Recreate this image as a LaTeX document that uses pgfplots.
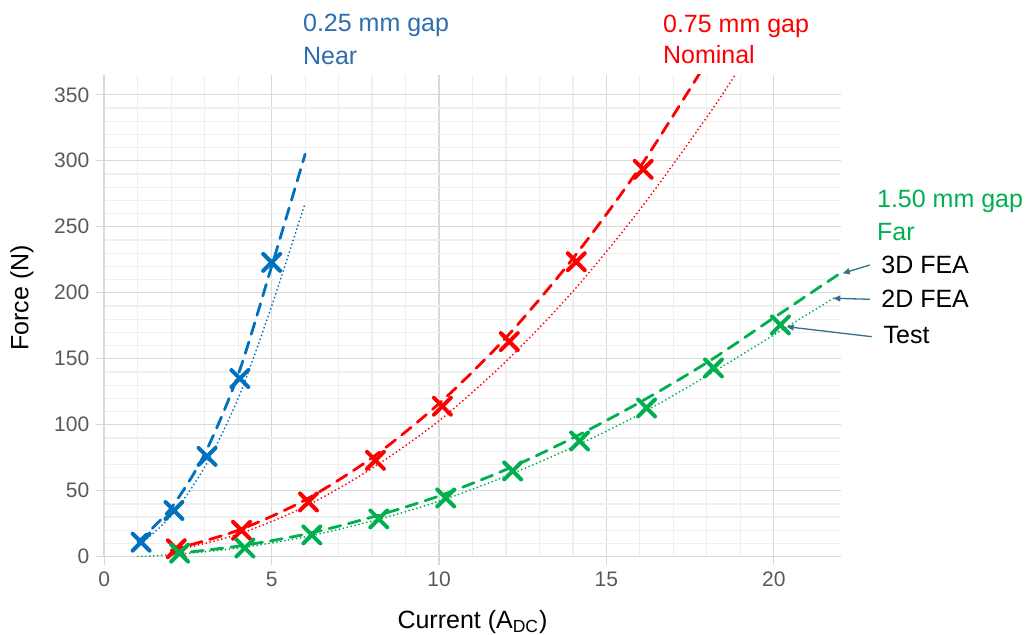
\documentclass[border=0pt]{standalone}
\usepackage{fontspec}
\setmainfont{Liberation Sans}
\usepackage{pgfplots}
\pgfplotsset{compat=1.18}
\usetikzlibrary{arrows.meta}
\definecolor{cblue}{HTML}{0070C0}
\definecolor{cred}{HTML}{FF0000}
\definecolor{cgreen}{HTML}{00B050}
\definecolor{tblue}{HTML}{2E6EAF}
\definecolor{tickgray}{HTML}{595959}
\definecolor{majgrid}{HTML}{D9D9D9}
\definecolor{mingrid}{HTML}{EFEFEF}
\definecolor{arrowc}{HTML}{31708F}
\begin{document}
\begin{tikzpicture}
\useasboundingbox (-52.15pt,-39.15pt) rectangle (464.35pt,278.35pt);
\begin{axis}[
  scale only axis, width=368.2pt, height=240.85pt,
  xmin=0, xmax=22, ymin=0, ymax=365,
  xtick={0,5,10,15,20}, ytick={0,50,...,350},
  minor x tick num=4, minor y tick num=4,
  grid=both,
  major grid style={majgrid, line width=0.6pt},
  minor grid style={mingrid, line width=0.6pt},
  axis lines=left, axis line style={-, draw=majgrid, line width=0.8pt},
  tick align=outside, major tick length=4pt, minor tick length=0pt,
  tick style={majgrid, line width=0.6pt},
  ticklabel style={font=\fontsize{10.5}{12}\selectfont, text=tickgray},
  /pgf/number format/assume math mode=true,
  xlabel={Current (A\textsubscript{DC})},
  ylabel={Force (N)},
  label style={font=\fontsize{12.5}{14}\selectfont},
  xlabel style={at={(axis description cs:0.5,-0.1486)}, anchor=base},
  ylabel style={at={(axis description cs:-0.1118,0.537)}, anchor=center},
  every axis plot/.append style={line cap=round},
  fea3/.style={line width=1.4pt, dash pattern=on 6pt off 4pt, smooth},
  fea2/.style={line width=1pt, dash pattern=on 0pt off 2pt, smooth},
  test/.style={only marks, mark=x, mark size=6pt, mark options={line width=2pt}},
]
% 0.25 mm gap (Near)
\addplot[cblue, fea3] coordinates {(1,11) (2,37) (3,78) (4,138) (5,220) (6,305)};
\addplot[cblue, fea2] coordinates {(1,8) (2,31) (3,68) (4,120) (5,190) (6,268)};
\addplot[cblue, test] coordinates {(1.1,11) (2.08,35) (3.07,76) (4.05,135) (5.0,223)};
% 0.75 mm gap (Nominal)
\addplot[cred, fea3] coordinates {(2,5) (4,20) (6,43) (8,75) (10,116) (12,166) (14,226) (16,295) (18,375)};
\addplot[cred, fea2] coordinates {(2,4) (4,17) (6,38) (8,67) (10,103) (12,148) (14,201) (16,263) (18,333) (19,371)};
\addplot[cred, test] coordinates {(2.15,6) (4.1,20) (6.1,41.5) (8.1,73) (10.1,114) (12.1,163) (14.1,223.5) (16.1,293.5)};
% 1.50 mm gap (Far)
\addplot[cgreen, fea3] coordinates {(2,2) (4,8) (6,17) (8,30) (10,46) (12,66) (14,90) (16,117) (18,147) (20,181) (22,215)};
\addplot[cgreen, fea2] coordinates {(1,0) (2,1.5) (4,6.5) (6,15) (8,27) (10,42) (12,61) (14,83) (16,108) (18,137) (20,168) (21.8,196)};
\addplot[cgreen, test] coordinates {(2.25,2.7) (4.2,6.6) (6.2,16.5) (8.2,28.6) (10.2,44.5) (12.2,65) (14.2,87.7) (16.2,112.7) (18.2,143) (20.2,175.6)};
\end{axis}
\begin{scope}[every node/.style={inner sep=0pt, anchor=base west, font=\fontsize{12.5}{14}\selectfont}]
\node[text=tblue] at (99.2pt,262.5pt) {0.25 mm gap};
\node[text=tblue] at (99.2pt,245.85pt) {Near};
\node[text=cred] at (279.2pt,262.2pt) {0.75 mm gap};
\node[text=cred] at (279.2pt,246.35pt) {Nominal};
\node[text=cgreen] at (386.2pt,174.5pt) {1.50 mm gap};
\node[text=cgreen] at (386.2pt,157.85pt) {Far};
\node at (388.35pt,141.7pt) {3D FEA};
\node at (388.35pt,124.5pt) {2D FEA};
\node at (389.5pt,106.7pt) {Test};
\end{scope}
\begin{scope}[arrowc, line width=0.65pt, -{Triangle[length=3.5pt,width=3pt]}]
\draw (382.85pt,145.85pt) -- (369.2pt,141.7pt);
\draw (382.85pt,128.7pt) -- (364.5pt,129.2pt);
\draw (383.7pt,110pt) -- (341.2pt,115pt);
\end{scope}
\end{tikzpicture}
\end{document}
